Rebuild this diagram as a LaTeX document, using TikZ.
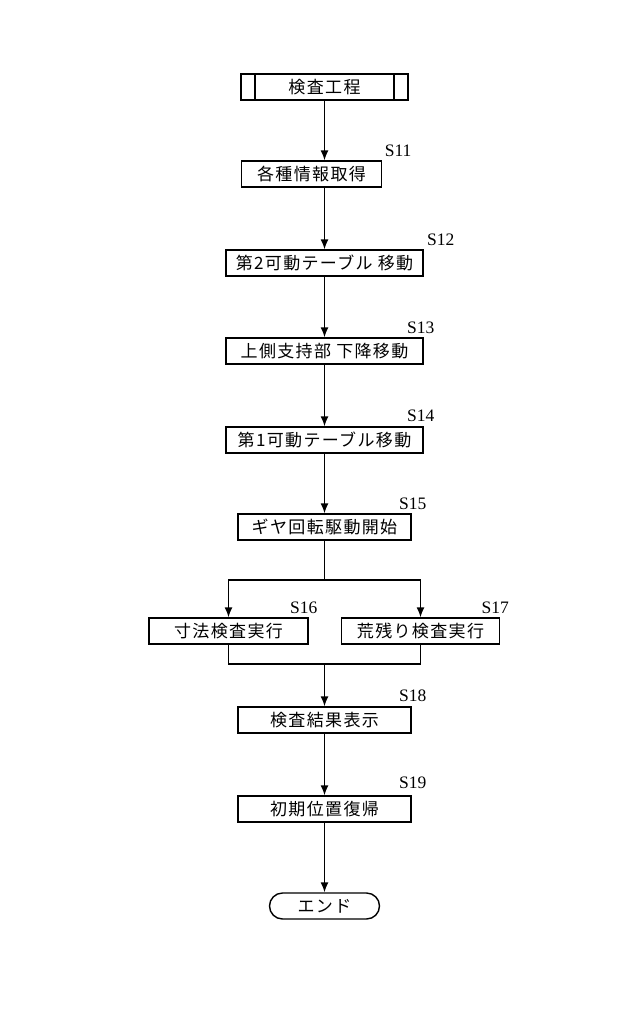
\documentclass[tikz,border=0pt]{standalone}
\usepackage{fontspec}
\setmainfont{Liberation Serif}
\newfontfamily\jpfont[LetterSpace=8]{Noto Sans CJK JP}
\usetikzlibrary{arrows.meta, positioning}

\begin{document}
\begin{tikzpicture}[x=1pt, y=1pt, node distance=88pt, on grid, line width=1.4pt,
        >={Latex[length=10pt,width=8pt]},
        stepbox/.style={draw, rectangle, minimum height=26pt, inner sep=0pt,
            font=\jpfont\fontsize{17}{20}\selectfont},
        startbox/.style={stepbox, path picture={
            \draw ([xshift=14pt]path picture bounding box.north west) -- ([xshift=14pt]path picture bounding box.south west);
            \draw ([xshift=-14pt]path picture bounding box.north east) -- ([xshift=-14pt]path picture bounding box.south east);}},
        endbox/.style={stepbox, rounded corners=13pt},
        tag/.style={inner sep=0pt, font=\fontsize{17.5}{19}\selectfont}]

        \useasboundingbox (0,0) rectangle (640,-1017);

        \node[startbox, minimum width=167pt] (start) at (324.5,-87) {検査工程};
        \node[stepbox, minimum width=140pt] (s11) [below=87pt of start, xshift=-13pt] {各種情報取得};
        \node[stepbox, minimum width=197pt] (s12) [below=176pt of start] {第2可動テーブル 移動};
        \node[stepbox, minimum width=197pt] (s13) [below=of s12] {上側支持部 下降移動};
        \node[stepbox, minimum width=197pt] (s14) [below=89pt of s13] {第1可動テーブル移動};
        \node[stepbox, minimum width=173pt] (s15) [below=87pt of s14] {ギヤ回転駆動開始};
        \node[stepbox, minimum width=159pt] (s16) [below left=104pt and 96pt of s15] {寸法検査実行};
        \node[stepbox, minimum width=158pt] (s17) [below right=104pt and 96pt of s15] {荒残り検査実行};
        \node[stepbox, minimum width=173pt] (s18) [below=193pt of s15] {検査結果表示};
        \node[stepbox, minimum width=173pt] (s19) [below=89pt of s18] {初期位置復帰};
        \node[endbox, minimum width=110pt] (end) [below=97pt of s19] {エンド};

        % step numbers
        \node[tag] (t11) [above=3pt of s11.north east, xshift=16pt] {S11};
        \node[tag] (t12) [above=3pt of s12.north east, xshift=17pt] {S12};
        \node[tag] (t13) [above=3pt of s13.north east, xshift=-3pt] {S13};
        \node[tag] (t14) [above=4pt of s14.north east, xshift=-3pt] {S14};
        \node[tag] (t15) [above=3pt of s15.north east, xshift=1pt] {S15};
        \node[tag] (t16) [above=3pt of s16.north east, xshift=-5pt] {S16};
        \node[tag] (t17) [above=3pt of s17.north east, xshift=-5pt] {S17};
        \node[tag] (t18) [above=4pt of s18.north east, xshift=1pt] {S18};
        \node[tag] (t19) [above=6pt of s19.north east, xshift=1pt] {S19};

        \coordinate (split) at (324.5,-580);
        \coordinate (join) at (324.5,-664);

        \draw[->] (start.south) -- (start.south |- s11.north);
        \draw[->] (start.south |- s11.south) -- (s12.north);
        \draw[->] (s12) -- (s13);
        \draw[->] (s13) -- (s14);
        \draw[->] (s14) -- (s15);
        \draw (s15) -- (split);
        \draw[->] (split) -| (s16.north);
        \draw[->] (split) -| (s17.north);
        \draw (s16.south) |- (join);
        \draw (s17.south) |- (join);
        \draw[->] (join) -- (s18.north);
        \draw[->] (s18) -- (s19);
        \draw[->] (s19) -- (end);

    \end{tikzpicture}
\end{document}
